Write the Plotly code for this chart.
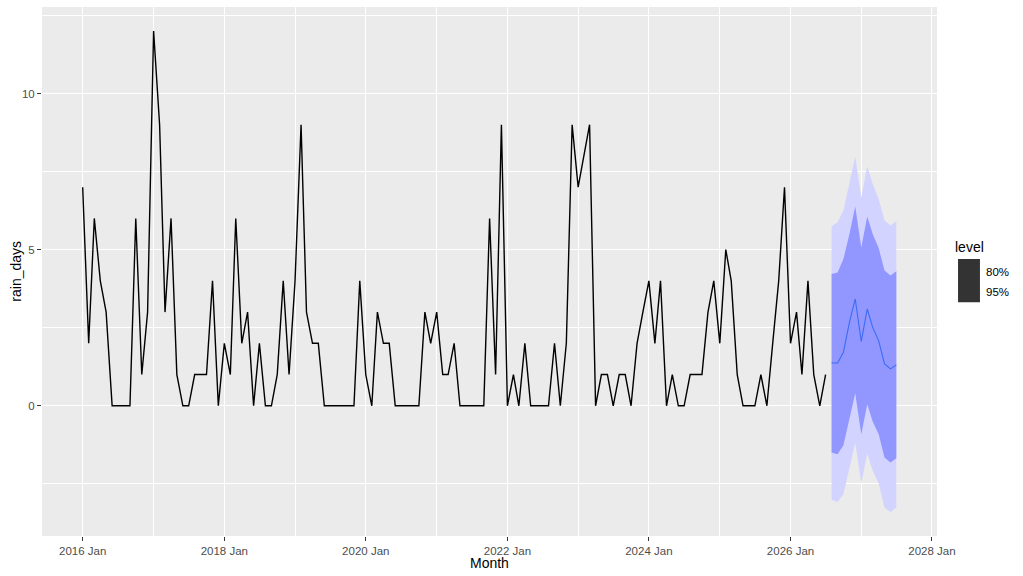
import pandas as pd
import plotly.graph_objects as go

# monthly rain days, 2016 Jan .. 2026 Jul
rain_days = [
    7, 2, 6, 4, 3, 0, 0, 0, 0, 6, 1, 3,
    12, 9, 3, 6, 1, 0, 0, 1, 1, 1, 4, 0,
    2, 1, 6, 2, 3, 0, 2, 0, 0, 1, 4, 1,
    4, 9, 3, 2, 2, 0, 0, 0, 0, 0, 0, 4,
    1, 0, 3, 2, 2, 0, 0, 0, 0, 0, 3, 2,
    3, 1, 1, 2, 0, 0, 0, 0, 0, 6, 1, 9,
    0, 1, 0, 2, 0, 0, 0, 0, 2, 0, 2, 9,
    7, 8, 9, 0, 1, 1, 0, 1, 1, 0, 2, 3,
    4, 2, 4, 0, 1, 0, 0, 1, 1, 1, 3, 4,
    2, 5, 4, 1, 0, 0, 0, 1, 0, 2, 4, 7,
    2, 3, 1, 4, 1, 0, 1,
]

# forecast 2026 Aug .. 2027 Jul
fc_mean = [1.37, 1.37, 1.71, 2.67, 3.42, 2.06, 3.10, 2.51, 2.08, 1.34, 1.18, 1.31]
fc_lo80 = [-1.50, -1.55, -1.26, -0.43, 0.40, -0.91, 0.05, -0.50, -0.91, -1.66, -1.82, -1.68]
fc_hi80 = [4.22, 4.27, 4.70, 5.50, 6.38, 5.07, 6.06, 5.50, 5.05, 4.33, 4.17, 4.31]
fc_lo95 = [-3.01, -3.08, -2.83, -1.96, -1.18, -2.48, -1.53, -2.08, -2.49, -3.26, -3.40, -3.26]
fc_hi95 = [5.75, 5.88, 6.25, 7.16, 7.98, 6.66, 7.66, 7.10, 6.62, 5.93, 5.77, 5.91]

levels = ["80%", "95%"]

months = pd.date_range("2016-01-01", periods=len(rain_days), freq="MS")
fc_months = pd.date_range(months[-1] + pd.DateOffset(months=1), periods=len(fc_mean), freq="MS")

FONT = "Liberation Sans, Arial, Helvetica, sans-serif"
BAND95 = "#D3D3FF"
BAND80 = "#9197FF"
MEANCOL = "#3D6BF5"

fig = go.Figure()

# 95% interval
fig.add_trace(go.Scatter(x=fc_months, y=fc_lo95, mode="lines", line=dict(width=0),
                         hoverinfo="skip", showlegend=False))
fig.add_trace(go.Scatter(x=fc_months, y=fc_hi95, mode="lines", line=dict(width=0),
                         fill="tonexty", fillcolor=BAND95, showlegend=False))
# 80% interval
fig.add_trace(go.Scatter(x=fc_months, y=fc_lo80, mode="lines", line=dict(width=0),
                         hoverinfo="skip", showlegend=False))
fig.add_trace(go.Scatter(x=fc_months, y=fc_hi80, mode="lines", line=dict(width=0),
                         fill="tonexty", fillcolor=BAND80, showlegend=False))
# point forecast
fig.add_trace(go.Scatter(x=fc_months, y=fc_mean, mode="lines",
                         line=dict(color=MEANCOL, width=1.1), showlegend=False))
# history
fig.add_trace(go.Scatter(x=months, y=rain_days, mode="lines",
                         line=dict(color="black", width=1.4), showlegend=False))

# ggplot-style 5% expansion
all_dates = list(months) + list(fc_months)
span = all_dates[-1] - all_dates[0]
x_range = [all_dates[0] - span * 0.05, all_dates[-1] + span * 0.05]
ymin = min(min(rain_days), min(fc_lo95))
ymax = max(max(rain_days), max(fc_hi95))
pad = (ymax - ymin) * 0.05
y_range = [ymin - pad, ymax + pad]

fig.update_layout(
    width=1023, height=576,
    margin=dict(l=42, r=86, t=7, b=40),
    paper_bgcolor="white",
    plot_bgcolor="#EBEBEB",
    font=dict(family=FONT, size=11.5, color="#4D4D4D"),
    showlegend=False,
    xaxis=dict(
        type="date", range=x_range, automargin=False,
        tick0="2016-01-01", dtick="M24", tickformat="%Y %b",
        showgrid=True, gridcolor="white", gridwidth=1.1,
        minor=dict(dtick="M12", tick0="2017-01-01", showgrid=True,
                   gridcolor="white", gridwidth=0.5, ticks=""),
        ticks="outside", ticklen=4, tickcolor="#333333", tickwidth=1.1,
        tickfont=dict(size=11.5, color="#4D4D4D"),
        zeroline=False, showline=False,
    ),
    yaxis=dict(
        range=y_range, tickvals=[0, 5, 10], automargin=False,
        showgrid=True, gridcolor="white", gridwidth=1.1,
        minor=dict(tickvals=[-2.5, 2.5, 7.5, 12.5], showgrid=True,
                   gridcolor="white", gridwidth=0.5, ticks=""),
        ticks="outside", ticklen=4, tickcolor="#333333", tickwidth=1.1,
        tickfont=dict(size=11.5, color="#4D4D4D"),
        zeroline=False, showline=False,
    ),
)

# axis titles
fig.add_annotation(text="Month", xref="paper", yref="paper", x=0.5, y=-0.032,
                   xanchor="center", yanchor="top", showarrow=False,
                   font=dict(size=14, color="black"))
fig.add_annotation(text="rain_days", xref="paper", yref="paper", x=-0.0188, y=0.5,
                   xanchor="right", yanchor="middle", textangle=-90, showarrow=False,
                   font=dict(size=14, color="black"))

# legend drawn by hand, ggplot style
fig.add_annotation(text="level", xref="paper", yref="paper", x=1.0175, y=0.546,
                   xanchor="left", yanchor="middle", showarrow=False,
                   font=dict(size=14, color="black"))
fig.add_shape(type="rect", xref="paper", yref="paper",
              x0=1.0235, x1=1.048, y0=0.442, y1=0.5236,
              fillcolor="#333333", line=dict(width=0))
for i, lab in enumerate(levels):
    fig.add_annotation(text=lab, xref="paper", yref="paper", x=1.0525,
                       y=0.499 - i * 0.038, xanchor="left", yanchor="middle",
                       showarrow=False, font=dict(size=11.5, color="black"))

fig.write_html("out.html", config={"displayModeBar": False},
               post_script="document.body.style.margin='0';")
